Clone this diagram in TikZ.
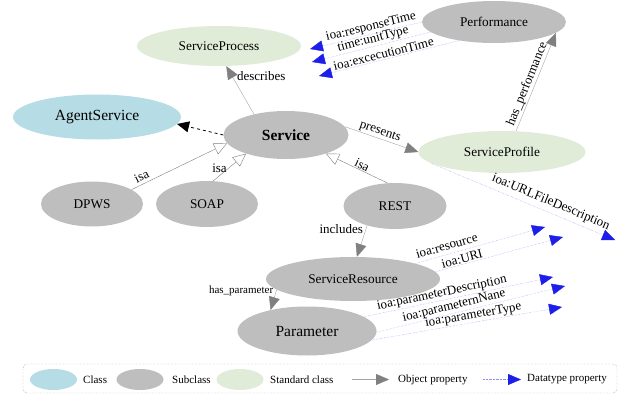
\documentclass[tikz,border=0pt]{standalone}
\usepackage{fontspec}
\setmainfont{Liberation Serif}
\usetikzlibrary{arrows.meta,shapes.geometric}
\definecolor{classblue}{RGB}{182,220,230}
\definecolor{subgray}{RGB}{190,190,190}
\definecolor{stdgreen}{RGB}{225,236,216}
\definecolor{objline}{RGB}{165,165,165}
\definecolor{objtip}{RGB}{128,128,128}
\definecolor{dataline}{RGB}{140,140,250}
\definecolor{datatip}{RGB}{30,30,235}
\tikzset{
  obj/.style={draw=objline,-{Triangle[length=13pt,width=11pt,color=objtip]}},
  isa/.style={draw=objtip,-{Triangle[open,length=13pt,width=12pt,fill=white]}},
  dtype/.style={draw=dataline,densely dotted,-{Triangle[length=13pt,width=11pt,color=datatip]}},
  bigtext/.style={font=\fontsize{15.5}{18}\selectfont}
}
\begin{document}
\begin{tikzpicture}[x=1pt,y=-1pt]

      \useasboundingbox (0,0) rectangle (626,396);

      \begin{scope}[every node/.style={ellipse,inner sep=0pt,font=\fontsize{13.3}{16}\selectfont}]
        \node[fill=stdgreen,minimum width=164pt,minimum height=40pt] (sproc) at (219,46) {ServiceProcess};
        \node[fill=subgray,minimum width=144pt,minimum height=42pt] (perf) at (494,22) {Performance};
        \node[fill=classblue,minimum width=168pt,minimum height=45pt,bigtext] (agent) at (97,117) {AgentService};
        \node[fill=subgray,minimum width=125pt,minimum height=48pt,font={\fontsize{15.5}{18}\selectfont\bfseries}] (svc) at (286,135) {Service};
        \node[fill=stdgreen,minimum width=167pt,minimum height=42pt] (sprof) at (502,152) {ServiceProfile};
        \node[fill=subgray,minimum width=102pt,minimum height=45pt] (dpws) at (92,204) {DPWS};
        \node[fill=subgray,minimum width=102pt,minimum height=46pt] (soap) at (207,204) {SOAP};
        \node[fill=subgray,minimum width=103pt,minimum height=46pt] (rest) at (395,206) {REST};
        \node[fill=subgray,minimum width=174pt,minimum height=44pt] (sres) at (353,279) {ServiceResource};
        \node[fill=subgray,minimum width=139pt,minimum height=49pt,bigtext] (param) at (307,331) {Parameter};
      \end{scope}

      \coordinate (resp) at (310,49);
      \coordinate (unit) at (312,62);
      \coordinate (exec) at (319,76);
      \coordinate (url)  at (615,240);
      \coordinate (res)  at (545,227);
      \coordinate (uri)  at (563,237);
      \coordinate (pdesc) at (553,277);
      \coordinate (pname) at (565,286);
      \coordinate (ptype) at (562,307);

      \begin{scope}[every node/.style={font=\fontsize{13}{15}\selectfont,inner sep=1pt}]
        \path (svc.147)  edge[obj] node[pos=0.8,right=4pt] {describes} (sproc.290);
        \path (svc.west) edge[dashed,thick,-{Triangle[length=12pt,width=11pt]}] (agent.-5);
        \path (svc.8)    edge[obj] node[pos=0.45,sloped,above] {presents} (sprof.west);
        \path (sprof.56) edge[obj] node[pos=0.45,sloped,above] {has\_performance} (perf.-10);
        \path (dpws.20)  edge[isa] node[pos=0.14,sloped,above=2pt] {isa} (svc.188);
        \path (soap.75)  edge[isa] node[pos=0.45,left=0pt] {isa} (svc.205);
        \path (rest.108) edge[isa] node[pos=0.45,sloped,above] {isa} (svc.-25);
        \path (rest.215) edge[obj] node[pos=0.1,left=2pt] {includes} (sres.80);
        \path (sres.188) edge[obj] node[pos=0.05,left=2pt,font=\fontsize{11}{13}\selectfont] {has\_parameter} (param.150);

        \path (perf.180) edge[dtype] node[pos=0.44,sloped,above] {ioa:responseTime} (resp);
        \path (perf.189) edge[dtype] node[pos=0.47,sloped,above] {time:unitType} (unit);
        \path (perf.208) edge[dtype] node[pos=0.53,sloped,above] {ioa:excecutionTime} (exec);
        \path (sprof.189) edge[dtype] node[pos=0.63,sloped,above=3pt] {ioa:URLFileDescription} (url);
        \path (sres.14)  edge[dtype] node[pos=0.26,sloped,above=3pt] {ioa:resource} (res);
        \path (sres.5)   edge[dtype] node[pos=0.22,sloped,above] {ioa:URI} (uri);
        \path (param.14) edge[dtype] node[pos=0.42,sloped,above] {ioa:parameterDescription} (pdesc);
        \path (param.-1) edge[dtype] node[pos=0.42,sloped,above] {ioa:parameternNane} (pname);
        \path (param.-8) edge[dtype] node[pos=0.54,sloped,above] {ioa:parameterType} (ptype);
      \end{scope}

      \draw[objtip,densely dotted,rounded corners=4pt] (23,364) rectangle (617,393);

      \begin{scope}[every node/.style={ellipse,minimum width=47pt,minimum height=21pt,inner sep=0pt}]
        \node[fill=classblue] (lclass) at (53.5,379.5) {};
        \node[fill=subgray]   (lsub)   at (140,379.5) {};
        \node[fill=stdgreen]  (lstd)   at (240,379.5) {};
      \end{scope}

      \coordinate (oa) at (352,379.5);
      \coordinate (ob) at (389,379.5);
      \coordinate (da) at (483,379.5);
      \coordinate (db) at (521,379.5);
      \path (oa) edge[obj] (ob);
      \path (da) edge[dtype] (db);

      \begin{scope}[every node/.style={anchor=west,inner sep=0pt,font=\fontsize{11}{13}\selectfont}]
        \node (tclass) at (83,379.5)  {Class};
        \node (tsub)   at (172,379.5) {Subclass};
        \node (tstd)   at (270,379.5) {Standard class};
        \node (tobj)   at (398,379.5) {Object property};
        \node (tdata)  at (527,379.5) {Datatype property};
      \end{scope}

    \end{tikzpicture}
\end{document}
